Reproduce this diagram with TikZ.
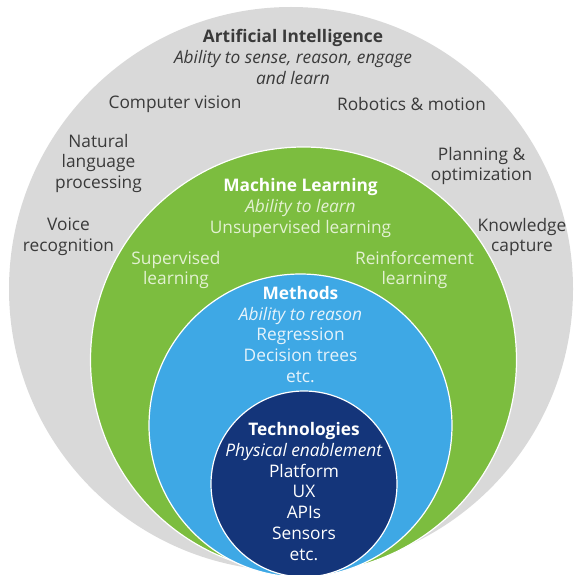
\documentclass[tikz,border=0pt]{standalone}
\usepackage{fontspec}
\setmainfont{Open Sans}
\usetikzlibrary{positioning}
\definecolor{aigray}{HTML}{D9D9D9}
\definecolor{mlgreen}{HTML}{7CBD3F}
\definecolor{methblue}{HTML}{3EA8E5}
\definecolor{techblue}{HTML}{14357A}
\definecolor{graytext}{HTML}{3A3A3A}
\definecolor{greentext}{HTML}{E3F1D2}
\definecolor{bluetext}{HTML}{E6F3FB}
\tikzset{
  lbl/.style={align=center,inner sep=0pt,font=\fontsize{17.3}{20.7}\selectfont},
  graylbl/.style={lbl,text=graytext},
  greenlbl/.style={lbl,text=greentext},
  bluelbl/.style={lbl,text=bluetext},
  techlbl/.style={lbl,text=white}
}

\begin{document}
\begin{tikzpicture}[x=1pt,y=-1pt]
	\def\rai{282pt};
	\def\rml{213pt};
	\def\rmeth{151.5pt};
	\def\rtech{93pt};
	\useasboundingbox (0,0) rectangle (573,575);
	\fill[aigray] (291,289) circle (\rai);
	\draw[white,line width=1.2pt,fill=mlgreen] (303.5,360) circle (\rml);
	\draw[white,line width=1.2pt,fill=methblue] (300.5,425.5) circle (\rmeth);
	\draw[white,line width=1.2pt,fill=techblue] (304,484) circle (\rtech);
	% outer ring
	\node[graylbl] (ai) at (293,57) {\textbf{Artificial Intelligence}\\\textit{Ability to sense, reason, engage}\\\textit{and learn}};
	\node[graylbl] (vision) at (175,104) {Computer vision};
	\node[graylbl] (robotics) at (411.5,104) {Robotics \& motion};
	\node[graylbl] (nlp) at (98.5,163.5) {Natural\\language\\processing};
	\node[graylbl] (planning) at (481.5,166) {Planning \&\\optimization};
	\node[graylbl] (voice) at (68.5,237) {Voice\\recognition};
	\node[graylbl] (knowledge) at (522,237) {Knowledge\\capture};
	% machine learning
	\node[greenlbl] (ml) at (300.5,208) {\textcolor{white}{\textbf{Machine Learning}}\\\textit{Ability to learn}\\Unsupervised learning};
	\node[greenlbl] (supervised) at (176,270) {Supervised\\learning};
	\node[greenlbl] (reinforce) at (414.5,270) {Reinforcement\\learning};
	% methods
	\node[bluelbl] (methods) at (300.5,334.5) {\textcolor{white}{\textbf{Methods}}\\\textit{Ability to reason}\\Regression\\Decision trees\\etc.};
	% technologies
	\node[techlbl] (tech) at (304,491.5) {\textbf{Technologies}\\\textit{Physical enablement}\\Platform\\UX\\APIs\\Sensors\\etc.};
\end{tikzpicture}
\end{document}
